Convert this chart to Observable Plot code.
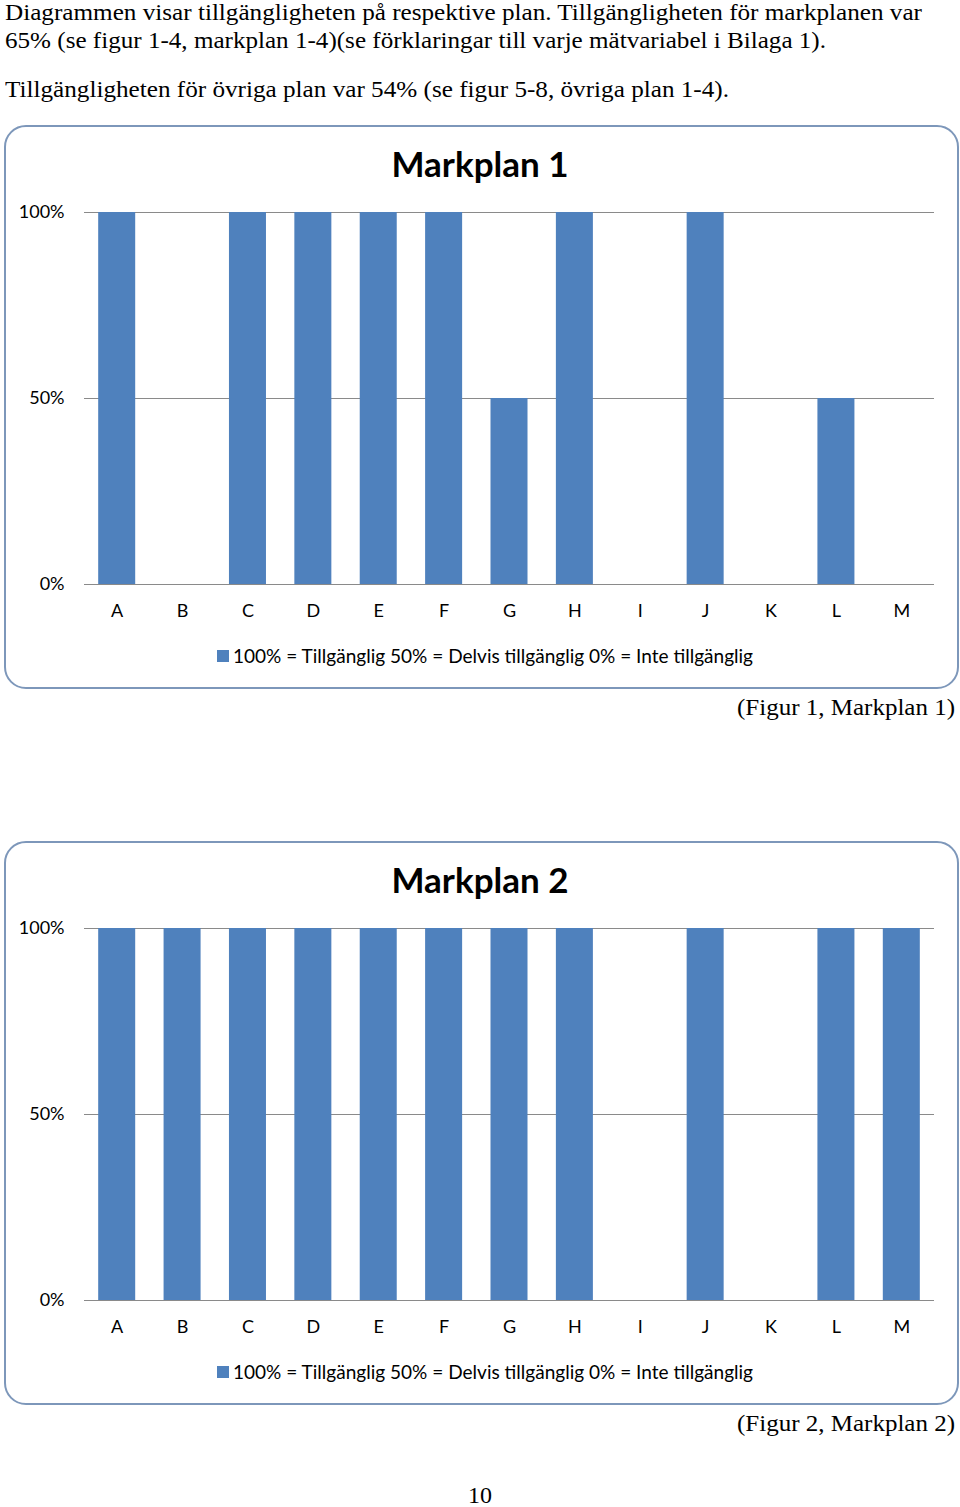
<!DOCTYPE html>
<html>
<head>
<meta charset="utf-8">
<script src="https://cdn.jsdelivr.net/npm/d3@7"></script>
<script src="https://cdn.jsdelivr.net/npm/@observablehq/plot@0.6"></script>
<style>
  html, body { margin: 0; padding: 0; background: #fff; }
  #page { position: relative; width: 960px; height: 1507px; overflow: hidden; background: #fff; }
  .serif { position: absolute; font-family: "Liberation Serif", "Times New Roman", serif; font-size: 24px; line-height: 24px; white-space: nowrap; color: #000; transform-origin: 0 0; }
  .box { position: absolute; box-sizing: border-box; border: 2px solid #7d97ba; border-radius: 22px; background: #fff; }
  .title { position: absolute; left: 0; width: 960px; text-align: center; font-family: Lato, sans-serif; font-weight: bold; font-size: 35px; line-height: 35px; color: #000; }
  .legend { position: absolute; font-family: Lato, sans-serif; font-size: 19px; line-height: 19px; white-space: nowrap; color: #000; }
  .legend .sw { position: absolute; width: 12px; height: 12px; background: #4f81bd; }
  .legend .lt { position: absolute; left: 16px; top: 0; transform-origin: 0 0; }
  .plotwrap { position: absolute; left: 0; }
</style>
</head>
<body>
<div id="page"></div>
<script>
// ---- data ----
const categories = ["A", "B", "C", "D", "E", "F", "G", "H", "I", "J", "K", "L", "M"];
const markplan1 = [100, 0, 100, 100, 100, 100, 50, 100, 0, 100, 0, 50, 0];
const markplan2 = [100, 100, 100, 100, 100, 100, 100, 100, 0, 100, 0, 100, 100];
const yTicks = [0, 50, 100];
const legendText = "100% = Tillgänglig 50% = Delvis tillgänglig 0% = Inte tillgänglig";
const introLines = [
  "Diagrammen visar tillgängligheten på respektive plan. Tillgängligheten för markplanen var",
  "65% (se figur 1-4, markplan 1-4)(se förklaringar till varje mätvariabel i Bilaga 1).",
  "Tillgängligheten för övriga plan var 54% (se figur 5-8, övriga plan 1-4)."
];
const charts = [
  {title: "Markplan 1", values: markplan1, caption: "(Figur 1, Markplan 1)"},
  {title: "Markplan 2", values: markplan2, caption: "(Figur 2, Markplan 2)"}
];
const pageNumber = "10";

const page = document.getElementById("page");

function fitWidth(el, targetWidth) {
  const w = el.getBoundingClientRect().width;
  if (w > 0) el.style.transform = `scaleX(${targetWidth / w})`;
}

function serifText(text, left, baseline, targetWidth) {
  const d = document.createElement("div");
  d.className = "serif";
  d.textContent = text;
  d.style.left = left + "px";
  d.style.top = (baseline - 20) + "px";
  page.appendChild(d);
  if (targetWidth) fitWidth(d, targetWidth);
  return d;
}

// intro text
serifText(introLines[0], 5, 20, 917);
serifText(introLines[1], 5, 48, 821);
serifText(introLines[2], 5, 97, 724);

function makeChart(values) {
  const data = categories.map((c, i) => ({c, v: values[i]}));
  return Plot.plot({
    width: 960,
    height: 563,
    marginTop: 87,
    marginBottom: 104,
    marginLeft: 84,
    marginRight: 26,
    x: {domain: categories, paddingInner: 0.434, paddingOuter: 0.217, round: false, label: null},
    y: {domain: [0, 100], label: null},
    style: {fontFamily: "Lato, sans-serif", fontSize: "18px", color: "#000", background: "transparent"},
    marks: [
      Plot.ruleY(yTicks, {stroke: "#8a8a8a", strokeWidth: 1.2}),
      Plot.barY(data, {x: "c", y: "v", fill: "#4f81bd"}),
      Plot.axisX({tickSize: 0, tickPadding: 20, label: null}),
      Plot.axisY({ticks: yTicks, tickFormat: d => d + "%", tickSize: 0, tickPadding: 20, label: null})
    ]
  });
}

const boxTops = [125, 841];
charts.forEach((ch, k) => {
  const top = boxTops[k];
  const box = document.createElement("div");
  box.className = "box";
  box.style.left = "4px";
  box.style.top = top + "px";
  box.style.width = "955px";
  box.style.height = "564px";
  page.appendChild(box);

  const wrap = document.createElement("div");
  wrap.className = "plotwrap";
  wrap.style.top = top + "px";
  wrap.appendChild(makeChart(ch.values));
  page.appendChild(wrap);

  const t = document.createElement("div");
  t.className = "title";
  t.textContent = ch.title;
  t.style.top = (top + 21) + "px";
  page.appendChild(t);

  const lg = document.createElement("div");
  lg.className = "legend";
  lg.style.left = "217px";
  lg.style.top = (top + 521) + "px";
  lg.style.width = "540px";
  lg.style.height = "20px";
  const sw = document.createElement("span");
  sw.className = "sw";
  sw.style.left = "0px";
  sw.style.top = "4px";
  lg.appendChild(sw);
  const lt = document.createElement("span");
  lt.className = "lt";
  lt.textContent = legendText;
  lg.appendChild(lt);
  page.appendChild(lg);
  fitWidth(lt, 520);

  serifText(ch.caption, 737, top + 590, 218);
});

serifText(pageNumber, 468, 1503, 24);
</script>
</body>
</html>
